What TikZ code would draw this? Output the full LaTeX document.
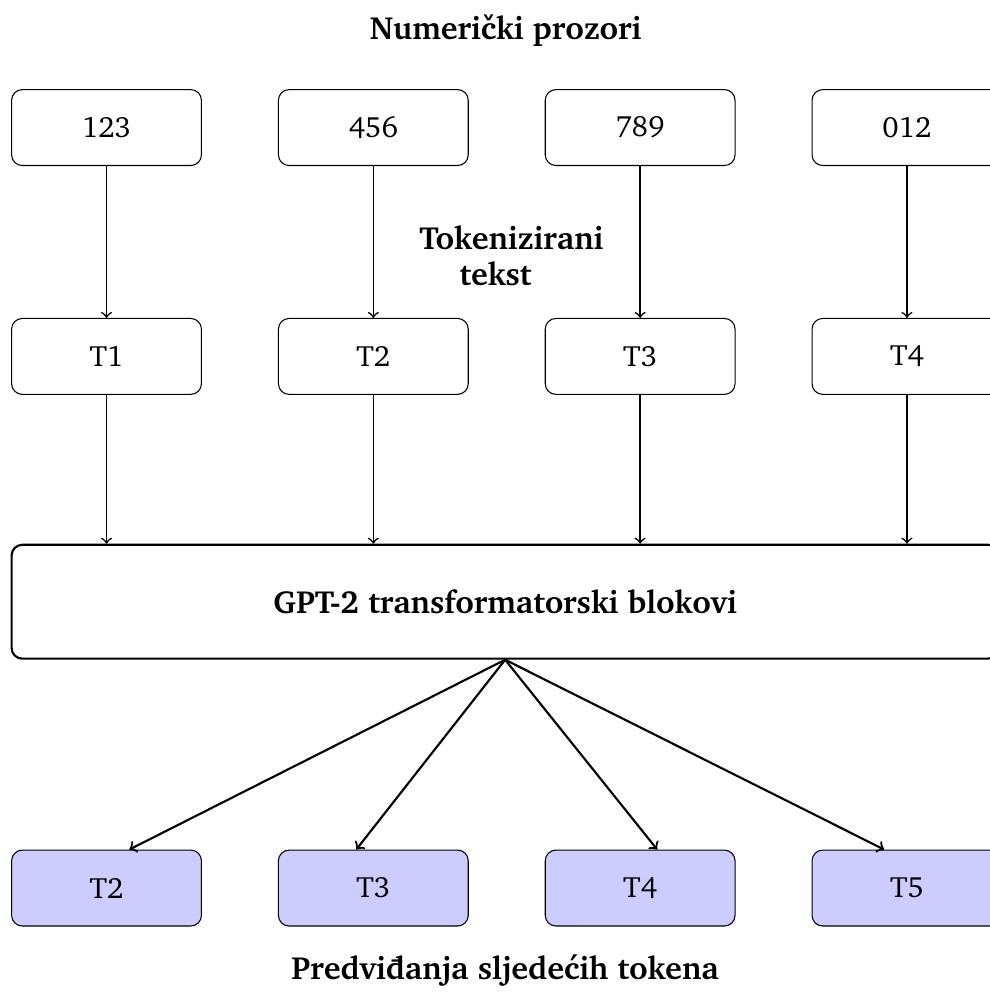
\documentclass[tikz,border=0pt]{standalone}
\usepackage[T1]{fontenc}
\usepackage{charter}
\usetikzlibrary{positioning}

\begin{document}
\begin{tikzpicture}[
    box/.style={draw, rounded corners, minimum width=2.5cm, minimum height=1cm, font=\fontsize{11}{13}\selectfont},
    predbox/.style={box, fill=blue!20},
    lbl/.style={font=\fontsize{12}{13.5}\selectfont\bfseries}
  ]
  \useasboundingbox (0,0) rectangle (13.03,-13.21);
  % numericki prozori
  \node[lbl] (naslov) at (6.66,-0.4) {Numeri\v{c}ki prozori};
  \node[box] (w1) at (1.403,-1.68) {123};
  \node[box, right=1cm of w1] (w2) {456};
  \node[box, right=1cm of w2] (w3) {789};
  \node[box, right=1cm of w3] (w4) {012};
  % tokeni
  \node[box, below=2cm of w1] (t1) {T1};
  \node[box, below=2cm of w2] (t2) {T2};
  \node[box, below=2cm of w3] (t3) {T3};
  \node[box, below=2cm of w4] (t4) {T4};
  \node[lbl, align=left, anchor=west] (tok) at (5.4,-3.36) {Tokenizirani\\\hspace*{0.53cm}tekst};
  \foreach \i in {1,...,4}{
    \draw[->, semithick] (w\i) -- (t\i);
  }
  % transformator
  \node[draw, thick, rounded corners, minimum width=13cm, minimum height=1.5cm, font=\fontsize{12}{13.5}\selectfont\bfseries] (gpt) at (6.653,-7.925) {GPT-2 transformatorski blokovi};
  \foreach \i in {1,...,4}{
    \draw[->, semithick] (t\i) -- (t\i |- gpt.north);
  }
  % predvidjanja
  \node[predbox, below=2.5cm of gpt.south -| w1, anchor=north] (p1) {T2};
  \node[predbox, right=1cm of p1] (p2) {T3};
  \node[predbox, right=1cm of p2] (p3) {T4};
  \node[predbox, right=1cm of p3] (p4) {T5};
  \draw[->, thick] (gpt.south) -- ([xshift=0.3cm]p1.north);
  \draw[->, thick] (gpt.south) -- ([xshift=-0.225cm]p2.north);
  \draw[->, thick] (gpt.south) -- ([xshift=0.225cm]p3.north);
  \draw[->, thick] (gpt.south) -- ([xshift=-0.3cm]p4.north);
  \node[lbl] (predv) at (6.653,-12.78) {Predvi\dj anja sljede\'cih tokena};
\end{tikzpicture}
\end{document}
